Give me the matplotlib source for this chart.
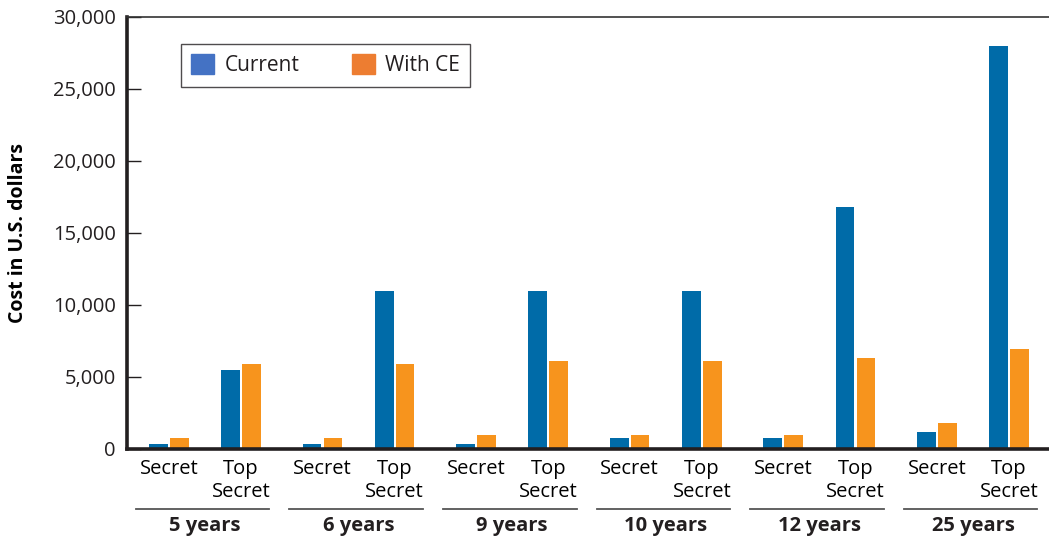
import numpy as np
import matplotlib.pyplot as plt
from matplotlib.patches import Patch
from matplotlib.ticker import FuncFormatter
import matplotlib.transforms as mtransforms

plt.rcParams['font.family'] = ['Open Sans', 'DejaVu Sans']
plt.rcParams['text.color'] = '#231f20'

# data
groups = ['5 years', '6 years', '9 years', '10 years', '12 years', '25 years']
levels = ['Secret', 'Top\nSecret']
current_secret = [350, 350, 350, 750, 750, 1150]
current_top = [5500, 11000, 11000, 11000, 16800, 28000]
withce_secret = [750, 750, 950, 950, 950, 1800]
withce_top = [5900, 5900, 6100, 6100, 6300, 6950]

blue = '#006ba8'
orange = '#f7941d'

fig = plt.figure(figsize=(10.49, 5.39), dpi=100)
ax = fig.add_axes([0.121, 0.167, 0.879, 0.8015])

g = np.arange(len(groups))
sub = 0.235
off = 0.068
w = 0.122

ax.bar(g - sub - off, current_secret, w, color=blue)
ax.bar(g - sub + off, withce_secret, w, color=orange)
ax.bar(g + sub - off, current_top, w, color=blue)
ax.bar(g + sub + off, withce_top, w, color=orange)

ax.set_xlim(-0.508, 5.495)
ax.set_ylim(0, 30000)
ax.set_yticks(np.arange(0, 30001, 5000))
ax.yaxis.set_major_formatter(FuncFormatter(lambda v, p: f'{int(v):,}'))
ax.tick_params(axis='y', direction='in', length=10, width=1, labelsize=14.5,
               pad=8, colors='#231f20')

xt = np.concatenate([g - sub, g + sub])
xl = [levels[0]] * len(g) + [levels[1]] * len(g)
ax.set_xticks(xt)
ax.set_xticklabels(xl, fontsize=14.5, linespacing=1.25, va='top')
ax.tick_params(axis='x', length=0, pad=7)

for s in ['left', 'bottom']:
    ax.spines[s].set_linewidth(2.6)
    ax.spines[s].set_color('#231f20')
ax.spines['top'].set_linewidth(1.2)
ax.spines['top'].set_color('#333333')
ax.spines['right'].set_visible(False)

# group brackets below the labels
tr = mtransforms.blended_transform_factory(ax.transData, ax.transAxes)
for i, name in enumerate(groups):
    ax.plot([i - 0.45, i + 0.42], [-0.139, -0.139], transform=tr, color='#555555',
            lw=1.3, clip_on=False)
    ax.text(i, -0.178, name, transform=tr, ha='center', va='center',
            fontsize=14.5, fontweight='bold')

ax.set_ylabel('Cost in U.S. dollars', fontsize=14, fontweight='bold', labelpad=18)

handles = [Patch(color='#4472c4', label='Current'),
           Patch(color='#ed7d31', label='With CE')]
leg = ax.legend(handles=handles, loc='upper left', bbox_to_anchor=(0.0586, 0.9375),
                ncol=2, fontsize=15, frameon=True, fancybox=False,
                edgecolor='#231f20', handlelength=1.1, handleheight=1.1,
                handletextpad=0.5, columnspacing=2.5, borderpad=0.5,
                borderaxespad=0)
leg.get_frame().set_linewidth(1.0)

fig.savefig('out.png', dpi=100)
